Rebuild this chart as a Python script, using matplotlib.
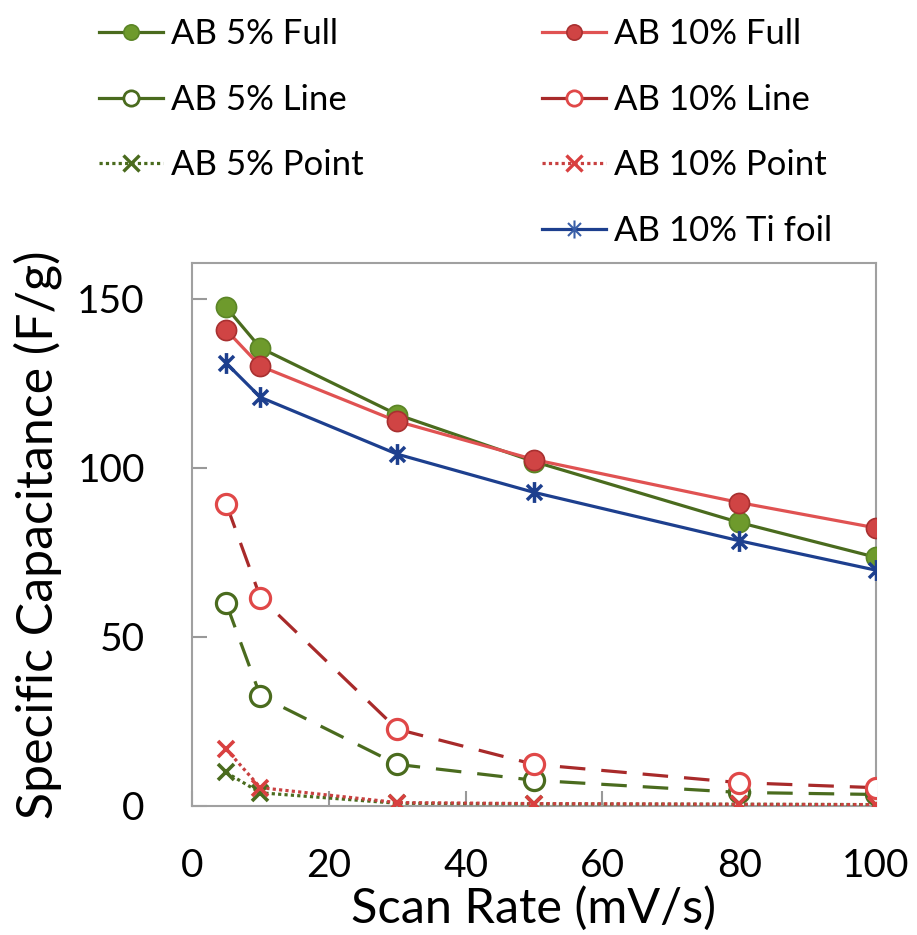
import matplotlib
matplotlib.use("Agg")
import matplotlib.pyplot as plt
from matplotlib.lines import Line2D
from matplotlib.path import Path

plt.rcParams['font.family'] = ['Lato', 'DejaVu Sans']

scan_rate = [5, 10, 30, 50, 80, 100]
ab5_full = [147.4, 135.4, 115.7, 101.8, 83.8, 73.5]
ab5_line = [59.9, 32.5, 12.3, 7.6, 4.0, 3.4]
ab5_point = [9.9, 3.9, 0.8, 0.6, 0.5, 0.4]
ab10_full = [140.7, 130.0, 113.7, 102.4, 89.7, 82.2]
ab10_line = [89.3, 61.6, 22.7, 12.3, 6.9, 5.4]
ab10_point = [16.8, 5.4, 1.0, 0.7, 0.5, 0.4]
ab10_ti = [130.9, 120.8, 104.0, 92.7, 78.4, 69.7]

labels = ["AB 5% Full", "AB 5% Line", "AB 5% Point",
          "AB 10% Full", "AB 10% Line", "AB 10% Point", "AB 10% Ti foil"]
x_ticks = [0, 20, 40, 60, 80, 100]
y_ticks = [0, 50, 100, 150]

# asterisk marker: vertical bar plus X
ast = Path([(0, -1), (0, 1), (-0.72, -0.72), (0.72, 0.72), (-0.72, 0.72), (0.72, -0.72)],
           [Path.MOVETO, Path.LINETO, Path.MOVETO, Path.LINETO, Path.MOVETO, Path.LINETO])

G_LINE = '#4a6b1e'
G_FILL = '#6e9a2c'
G_EDGE = '#5b8526'
R_LINE = '#e05252'
R_FILL = '#d04444'
R_EDGE = '#a83030'
R_DASH = '#a82a2a'
R_OPEN = '#e04848'
R_X = '#d94040'
B_LINE = '#1d3f8e'

fig = plt.figure(figsize=(9.17, 9.35), dpi=100)
ax = fig.add_axes([0.2094, 0.1380, 0.7459, 0.5807])

lw = 2.3
ms = 14.5
ax.plot(scan_rate, ab5_full, color=G_LINE, lw=lw, marker='o', ms=ms,
        mfc=G_FILL, mec=G_EDGE, mew=1.2, zorder=5)
ax.plot(scan_rate, ab5_line, color=G_LINE, lw=lw, ls=(0, (8, 5)), marker='o', ms=ms,
        mfc='white', mec=G_LINE, mew=2.3, zorder=4)
ax.plot(scan_rate, ab5_point, color=G_LINE, lw=lw, ls=(0, (1, 1)), marker='x', ms=12,
        mec=G_LINE, mew=2.6, zorder=4)
ax.plot(scan_rate, ab10_full, color=R_LINE, lw=lw, marker='o', ms=ms,
        mfc=R_FILL, mec=R_EDGE, mew=1.2, zorder=6)
ax.plot(scan_rate, ab10_line, color=R_DASH, lw=lw, ls=(0, (8, 5)), marker='o', ms=ms,
        mfc='white', mec=R_OPEN, mew=2.3, zorder=5)
ax.plot(scan_rate, ab10_point, color='#c84040', lw=lw, ls=(0, (1, 1)), marker='x', ms=12,
        mec=R_X, mew=2.6, zorder=5)
ax.plot(scan_rate, ab10_ti, color=B_LINE, lw=lw, marker=ast, ms=15,
        mec=B_LINE, mew=2.5, zorder=5)

ax.set_xlim(0, 100)
ax.set_ylim(0, 160.5)
ax.set_xticks(x_ticks)
ax.set_yticks(y_ticks)
ax.tick_params(direction='in', length=11, width=1.5, color='#999999',
               labelsize=28, pad=30)
ax.tick_params(axis='y', pad=34)
for s in ax.spines.values():
    s.set_color('#a0a0a0')
    s.set_linewidth(1.5)

ax.set_xlabel("Scan Rate (mV/s)", fontsize=35)
ax.set_ylabel("Specific Capacitance (F/g)", fontsize=36)
ax.xaxis.set_label_coords(0.5, -0.148)
ax.yaxis.set_label_coords(-0.19, 0.5)

# legend proxies (Excel shows solid handle lines for dashed series)
lh = [
    Line2D([], [], color=G_LINE, lw=lw, marker='o', ms=11, mfc=G_FILL, mec=G_EDGE, mew=1.2),
    Line2D([], [], color=G_LINE, lw=lw, marker='o', ms=11, mfc='white', mec=G_LINE, mew=2.0),
    Line2D([], [], color=G_LINE, lw=lw, ls=(0, (1, 1)), marker='x', ms=11, mec=G_LINE, mew=2.4),
    Line2D([], [], color=R_LINE, lw=lw, marker='o', ms=11, mfc=R_FILL, mec=R_EDGE, mew=1.2),
    Line2D([], [], color=R_DASH, lw=lw, marker='o', ms=11, mfc='white', mec=R_OPEN, mew=2.0),
    Line2D([], [], color='#c84040', lw=lw, ls=(0, (1, 1)), marker='x', ms=11, mec=R_X, mew=2.4),
    Line2D([], [], color=B_LINE, lw=lw, marker=ast, ms=13, mec='#3a5fa8', mew=1.5),
]

leg_kw = dict(frameon=False, fontsize=25, handlelength=1.85, handletextpad=0.22,
              labelspacing=0.97, borderaxespad=0, borderpad=0, loc='upper left')
leg1 = fig.legend(lh[:3], labels[:3], bbox_to_anchor=(99 / 917, 1 - 18 / 935), **leg_kw)
leg2 = fig.legend(lh[3:], labels[3:], bbox_to_anchor=(542 / 917, 1 - 18 / 935), **leg_kw)

fig.savefig("out.png", dpi=100)
